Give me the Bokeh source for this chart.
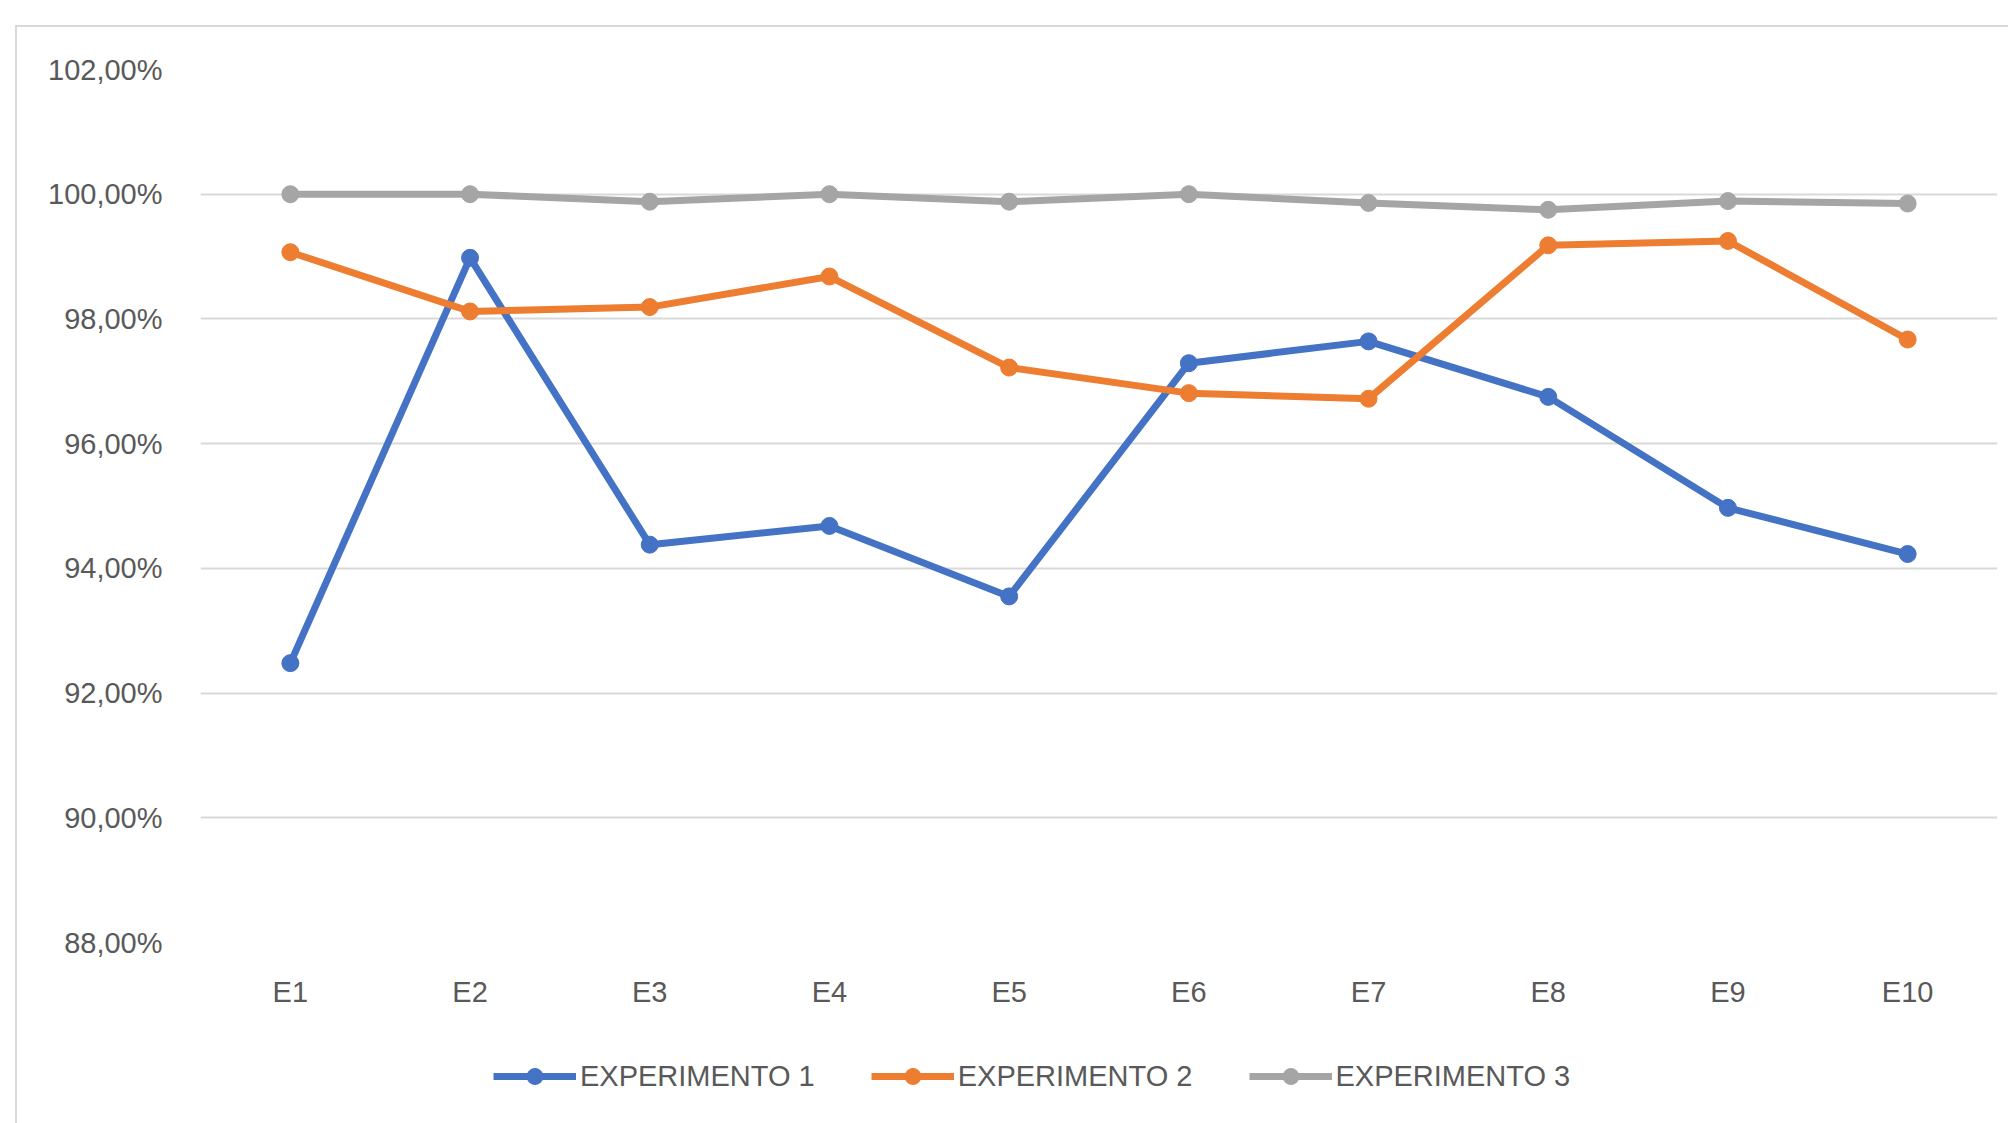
from bokeh.plotting import figure
from bokeh.layouts import column
from bokeh.models import Range1d, FactorRange, FixedTicker, Legend, LegendItem, InlineStyleSheet
from bokeh.embed import file_html
from bokeh.resources import INLINE

categories = ["E1", "E2", "E3", "E4", "E5", "E6", "E7", "E8", "E9", "E10"]
exp1 = [92.48, 98.98, 94.38, 94.68, 93.55, 97.29, 97.64, 96.75, 94.97, 94.23]
exp2 = [99.07, 98.12, 98.19, 98.68, 97.22, 96.81, 96.72, 99.18, 99.25, 97.67]
exp3 = [100.00, 100.00, 99.88, 100.00, 99.88, 100.00, 99.86, 99.75, 99.89, 99.85]
series_names = ["EXPERIMENTO 1", "EXPERIMENTO 2", "EXPERIMENTO 3"]
y_ticks = [88, 90, 92, 94, 96, 98, 100, 102]
y_tick_labels = ["88,00%", "90,00%", "92,00%", "94,00%", "96,00%", "98,00%", "100,00%", "102,00%"]

colors = ["#4472C4", "#ED7D31", "#A5A5A5"]
FONT = "Liberation Sans"
TXT = "#595959"
LW, MS = 7, 17

p = figure(width=2008, height=1010, x_range=FactorRange(*categories), y_range=Range1d(88, 102),
           output_backend="svg", toolbar_location=None,
           min_border_left=200, min_border_right=11, min_border_top=69, min_border_bottom=60)
p.outline_line_color = None
p.background_fill_color = "white"
p.border_fill_color = "white"

p.xgrid.grid_line_color = None
p.ygrid.grid_line_color = "#D9D9D9"
p.ygrid.grid_line_width = 2

p.yaxis.ticker = FixedTicker(ticks=y_ticks)
p.yaxis.major_label_overrides = {t: l for t, l in zip(y_ticks, y_tick_labels)}
for ax in (p.xaxis[0], p.yaxis[0]):
    ax.axis_line_color = None
    ax.major_tick_line_color = None
    ax.minor_tick_line_color = None
    ax.major_label_text_font = FONT
    ax.major_label_text_font_size = "29px"
    ax.major_label_text_color = TXT
p.yaxis.major_label_standoff = 32
p.xaxis.major_label_standoff = 27

for vals, c in zip([exp1, exp2, exp3], colors):
    p.line(categories, vals, line_color=c, line_width=LW)
    p.scatter(categories, vals, size=MS, fill_color=c, line_color=c)

# legend strip below the chart (hidden copies of the series serve as legend glyph sources)
p2 = figure(width=2008, height=113, x_range=p.x_range, y_range=p.y_range,
            x_axis_type=None, y_axis_type=None, output_backend="svg", toolbar_location=None,
            min_border=0, min_border_left=0, min_border_right=0, min_border_top=0, min_border_bottom=0)
p2.outline_line_color = None
p2.grid.grid_line_color = None
p2.border_fill_color = "white"
items = []
for name, vals, c in zip(series_names, [exp1, exp2, exp3], colors):
    l = p2.line(categories, vals, line_color=c, line_width=LW, visible=False)
    s = p2.scatter(categories, vals, size=MS, fill_color=c, line_color=c, visible=False)
    items.append(LegendItem(label=name, renderers=[l, s]))
legend = Legend(items=items, orientation="horizontal", location=(293, 27),
                glyph_width=83, glyph_height=40, label_standoff=4, spacing=56,
                label_text_font=FONT, label_text_font_size="29px", label_text_color=TXT,
                border_line_color=None, background_fill_alpha=0, padding=10, margin=0)
p2.add_layout(legend, "center")

p.stylesheets = [InlineStyleSheet(css=""":host::after { content: ""; position: absolute; left: 15px; top: 25px;
  right: -10px; bottom: 0px; border-left: 2px solid #D9D9D9; border-top: 2px solid #D9D9D9;
  pointer-events: none; }""")]
p2.stylesheets = [InlineStyleSheet(css=""":host::after { content: ""; position: absolute; left: 15px; top: 0px;
  right: -10px; bottom: -10px; border-left: 2px solid #D9D9D9;
  pointer-events: none; }""")]

layout = column(p, p2, spacing=0)
open("out.html", "w").write(file_html(layout, INLINE))
